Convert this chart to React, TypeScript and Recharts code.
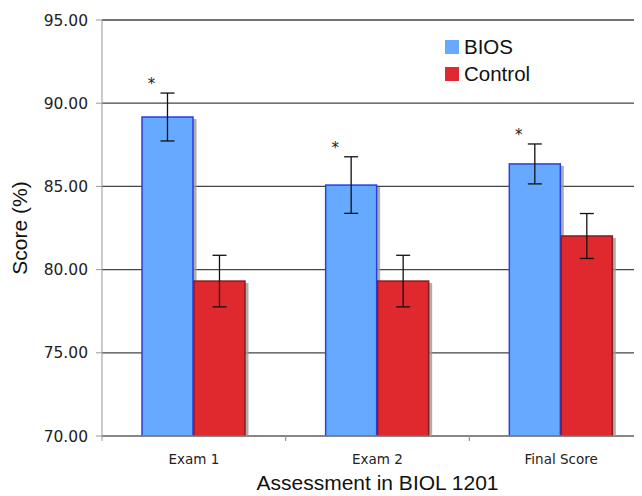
import React from "react";
import { Bar, BarChart, CartesianGrid, ErrorBar, LabelList, Legend, XAxis, YAxis } from "recharts";

const categories = ["Exam 1", "Exam 2", "Final Score"];
const biosScores = [89.17, 85.08, 86.35];
const biosErrors = [1.44, 1.7, 1.2];
const controlScores = [79.31, 79.31, 82.02];
const controlErrors = [1.55, 1.55, 1.35];
const significant = ["*", "*", "*"];
const yTicks = [70, 75, 80, 85, 90, 95];

const data = categories.map((name, i) => ({
  name,
  bios: biosScores[i],
  biosErr: biosErrors[i],
  control: controlScores[i],
  controlErr: controlErrors[i],
  sig: significant[i],
}));

const W = 660;
const H = 488;
const M = { top: 12, right: 15, left: 0, bottom: 0 };
const Y_W = 94;
const X_H = 60;
const plotW = W - M.left - M.right - Y_W;
const plotH = H - M.top - M.bottom - X_H;
const pxPerUnit = plotH / (yTicks[yTicks.length - 1] - yTicks[0]);
const band = plotW / categories.length;

const tickFont = "'DejaVu Sans', Verdana, sans-serif";
const titleFont = "'Liberation Sans', Arial, sans-serif";

function ShadowBar(stroke: string) {
  return (props: any) => {
    const { x, y, width, height, fill } = props;
    if (height <= 0) return null;
    return (
      <g>
        <rect x={x + 3} y={y + 2} width={width} height={height - 2} fill="#9a9a9a" opacity={0.8} />
        <rect x={x + 0.5} y={y} width={width - 1} height={height} fill={fill} stroke={stroke} strokeWidth={1.5} />
      </g>
    );
  };
}

function CatTick(props: any) {
  const { x, y, payload } = props;
  return (
    <g>
      <line x1={x - band / 2} y1={y - 8} x2={x - band / 2} y2={y - 3} stroke="#999" />
      <line x1={x + band / 2} y1={y - 8} x2={x + band / 2} y2={y - 3} stroke="#999" />
      <text x={x} y={y + 20} textAnchor="middle" fontSize={13.5} fill="#222" fontFamily={tickFont}>
        {payload.value}
      </text>
    </g>
  );
}

function Star(props: any) {
  const { x, y, index } = props;
  const top = y - biosErrors[index] * pxPerUnit - 4;
  return (
    <text x={x + 10} y={top} textAnchor="middle" fontSize={15} fill="#222" fontFamily={tickFont}>
      {significant[index]}
    </text>
  );
}

function LegendBox() {
  const items = [
    { label: "BIOS", color: "#66aaff" },
    { label: "Control", color: "#e0292f" },
  ];
  return (
    <div style={{ fontFamily: titleFont, fontSize: 20.5, color: "#111" }}>
      {items.map((it) => (
        <div key={it.label} style={{ display: "flex", alignItems: "center", height: 27 }}>
          <span style={{ width: 14, height: 14, background: it.color, marginRight: 5, display: "inline-block" }} />
          {it.label}
        </div>
      ))}
    </div>
  );
}

export default function App() {
  return (
    <div style={{ width: 634, overflow: "hidden" }}>
      <BarChart width={W} height={H} data={data} margin={M} barCategoryGap="21.5%" barGap={0}>
        <CartesianGrid vertical={false} stroke="#444" strokeWidth={1.3} />
        <XAxis
          dataKey="name"
          height={X_H}
          stroke="#999"
          tickLine={false}
          tick={<CatTick />}
          interval={0}
          label={{ value: "Assessment in BIOL 1201", position: "insideBottom", offset: 6, fontSize: 21, fill: "#111", fontFamily: titleFont }}
        />
        <YAxis
          width={Y_W}
          domain={[70, 95]}
          ticks={yTicks}
          allowDataOverflow
          stroke="#999"
          tickSize={6}
          tickMargin={8}
          tickFormatter={(v: number) => v.toFixed(2)}
          tick={{ fontSize: 15.5, fill: "#222", fontFamily: tickFont }}
          label={{ value: "Score (%)", angle: -90, position: "insideLeft", offset: 12, fontSize: 21, fill: "#111", fontFamily: titleFont, style: { textAnchor: "middle" } }}
        />
        <Legend
          content={<LegendBox />}
          layout="vertical"
          align="center"
          verticalAlign="middle"
          wrapperStyle={{ top: 25, left: 437, width: 120 }}
        />
        <Bar dataKey="bios" name="BIOS" fill="#66aaff" shape={ShadowBar("#2a3fe0")} isAnimationActive={false}>
          <ErrorBar dataKey="biosErr" width={7} stroke="#111" strokeWidth={1.3} />
          <LabelList dataKey="sig" content={<Star />} />
        </Bar>
        <Bar dataKey="control" name="Control" fill="#e0292f" shape={ShadowBar("#8a1c1c")} isAnimationActive={false}>
          <ErrorBar dataKey="controlErr" width={7} stroke="#111" strokeWidth={1.3} />
        </Bar>
      </BarChart>
    </div>
  );
}
